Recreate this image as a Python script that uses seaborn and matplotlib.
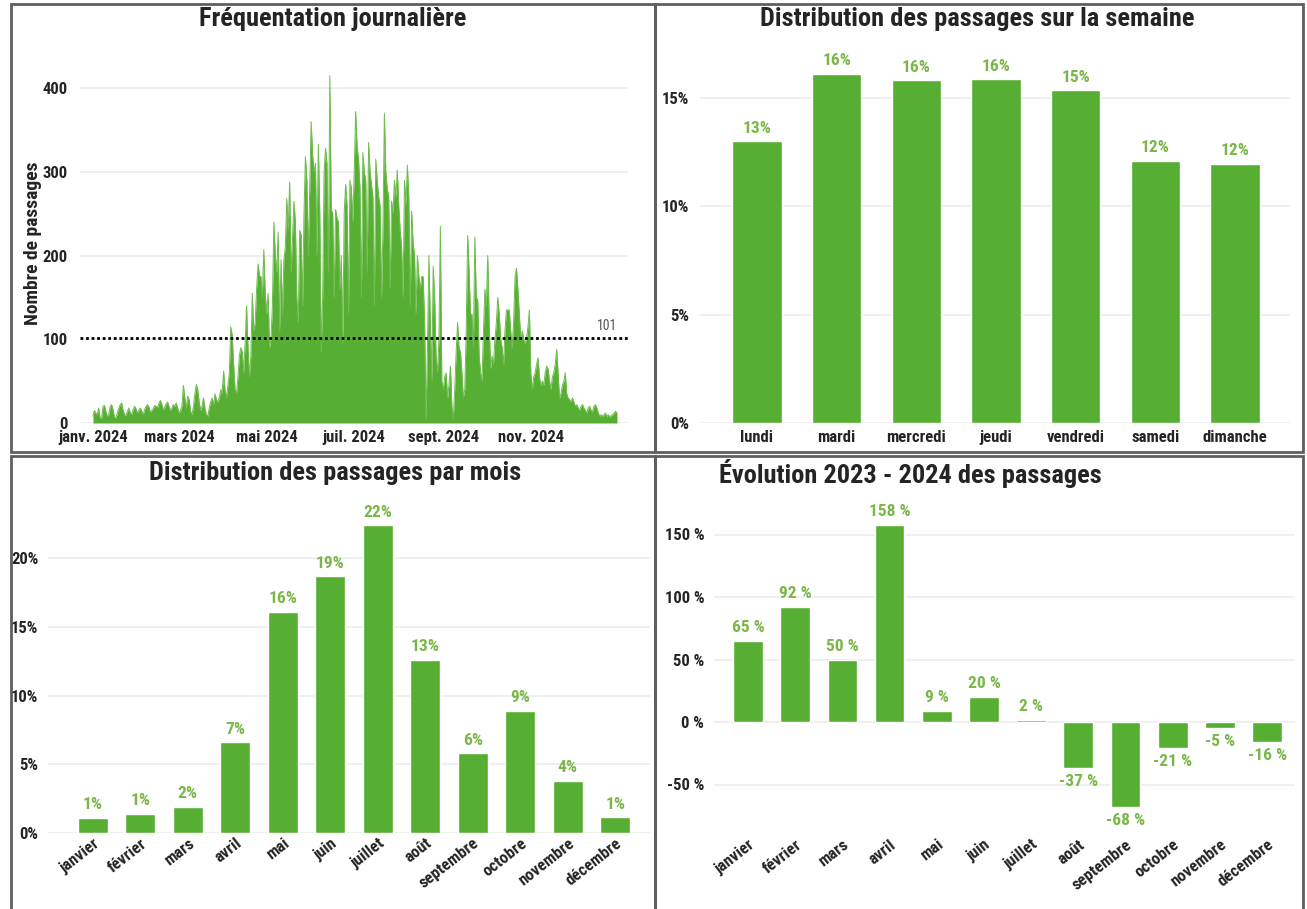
import numpy as np
import pandas as pd
import seaborn as sns
import matplotlib.pyplot as plt
from matplotlib.patches import Rectangle

# couleurs
GREEN = '#56ae32'
LABEL_GREEN = '#7ab648'
DARK = '#252423'

#donnees journalieres 2024
jan = [8, 15, 12, 10, 18, 6, 5, 20, 21, 14, 8, 10, 20, 22, 16, 7, 6, 12, 18, 22,
       24, 15, 10, 9, 14, 18, 12, 10, 16, 20, 17]
feb = [12, 15, 18, 14, 10, 16, 20, 22, 19, 13, 15, 17, 21, 20, 18, 24, 27, 22, 16, 19,
       23, 25, 20, 15, 18, 22, 20, 24, 18]
mar = [12, 15, 20, 45, 30, 18, 32, 28, 14, 10, 20, 35, 46, 40, 25, 15, 20, 30, 18, 10,
       8, 18, 25, 30, 22, 35, 28, 25, 30, 40, 35]
apr = [62, 40, 30, 45, 60, 115, 105, 70, 40, 35, 55, 80, 90, 85, 60, 95, 140, 90, 55, 80,
       155, 110, 120, 160, 190, 175, 175, 150, 207, 155]
may = [130, 155, 90, 100, 140, 240, 200, 180, 228, 110, 195, 130, 195, 210, 268, 230, 288, 180, 220, 265,
       240, 150, 120, 230, 225, 140, 250, 318, 290, 200, 280]
jun = [360, 320, 300, 310, 200, 333, 250, 85, 150, 300, 328, 310, 180, 415, 255, 250, 150, 255, 245, 240,
       160, 200, 95, 250, 285, 260, 130, 290, 280, 240]
jul = [300, 372, 330, 315, 280, 150, 323, 300, 290, 180, 335, 300, 285, 270, 140, 315, 290, 270, 260, 150,
       230, 370, 300, 280, 270, 160, 265, 250, 290, 270, 302]
aug = [260, 230, 210, 150, 290, 260, 308, 270, 140, 253, 215, 200, 130, 200, 175, 160, 175, 175, 120, 5,
       90, 200, 120, 50, 187, 150, 80, 60, 100, 235, 50]
sep = [40, 55, 60, 30, 45, 68, 20, 5, 40, 85, 120, 90, 85, 60, 30, 40, 110, 224, 180, 130,
       130, 90, 222, 150, 147, 80, 60, 50, 110, 160]
oct_ = [140, 200, 120, 65, 80, 70, 100, 120, 150, 130, 100, 90, 70, 110, 135, 135, 135, 110, 90, 120,
        175, 185, 160, 130, 100, 110, 100, 95, 100, 115, 135]
nov = [60, 40, 55, 60, 70, 78, 55, 45, 50, 45, 60, 68, 65, 50, 40, 55, 60, 70, 88, 60,
       30, 35, 45, 50, 60, 35, 30, 28, 25, 30]
dec = [25, 20, 22, 18, 15, 20, 22, 18, 15, 12, 18, 20, 15, 14, 20, 22, 18, 12, 8, 10,
       8, 10, 12, 8, 10, 7, 9, 10, 12, 14, 12]
mean_passages = 101

date_ticks = ['2024-01-01', '2024-03-01', '2024-05-01', '2024-07-01', '2024-09-01', '2024-11-01']
date_labels = ['janv. 2024', 'mars 2024', 'mai 2024', 'juil. 2024', 'sept. 2024', 'nov. 2024']

#distribution semaine (%)
jours = ['lundi', 'mardi', 'mercredi', 'jeudi', 'vendredi', 'samedi', 'dimanche']
part_jours = [13.0, 16.1, 15.8, 15.85, 15.35, 12.1, 11.95]

#distribution mois (%)
mois = ['janvier', 'février', 'mars', 'avril', 'mai', 'juin', 'juillet', 'août',
        'septembre', 'octobre', 'novembre', 'décembre']
part_mois = [1.1, 1.4, 1.9, 6.6, 16.1, 18.7, 22.4, 12.6, 5.8, 8.9, 3.8, 1.15]

#evolution 2023 - 2024 (%)
evolution = [65, 92, 50, 158, 9, 20, 2, -37, -68, -21, -5, -16]

sns.set_style('white')
plt.rcParams['font.family'] = ['Roboto Condensed', 'DejaVu Sans Condensed', 'Roboto', 'DejaVu Sans']
plt.rcParams['font.stretch'] = 'condensed'

fig = plt.figure(figsize=(13.07, 9.09), dpi=100)
W, H = 1307, 909
TICK_SIZE = 12
VALUE_SIZE = 12.5


def box(x0, y0, x1, y1):
    # pixel box -> figure fraction [left, bottom, width, height]
    return [x0 / W, 1 - y1 / H, (x1 - x0) / W, (y1 - y0) / H]


def style_axes(ax):
    sns.despine(ax=ax, left=True, bottom=True)
    ax.grid(axis='y', color='#ececec', lw=1.2)
    ax.grid(axis='x', visible=False)
    ax.set_axisbelow(True)
    ax.tick_params(length=0, labelsize=TICK_SIZE, labelcolor=DARK)
    for lab in ax.get_xticklabels() + ax.get_yticklabels():
        lab.set_fontweight('bold')
    ax.set_xlabel('')
    ax.set_ylabel('')


#panel borders
for (x0, y0, x1, y1) in [(11, 4, 655, 452), (655, 4, 1303, 452), (11, 456, 655, 915), (655, 456, 1303, 915)]:
    fig.add_artist(Rectangle((x0 / W, 1 - y1 / H), (x1 - x0) / W, (y1 - y0) / H,
                             transform=fig.transFigure, fill=False, ec='#5f5f5f', lw=2))

#titles
title_kw = dict(ha='center', va='center', fontsize=19, fontweight='bold', color=DARK)
fig.text(333 / W, 1 - 19 / H, 'Fréquentation journalière', **title_kw)
fig.text(977 / W, 1 - 19 / H, 'Distribution des passages sur la semaine', **title_kw)
fig.text(335 / W, 1 - 473 / H, 'Distribution des passages par mois', **title_kw)
fig.text(910 / W, 1 - 474 / H, 'Évolution 2023 - 2024 des passages', **title_kw)

# 1. frequentation journaliere
daily = pd.DataFrame({'date': pd.date_range('2024-01-01', '2024-12-31', freq='D'),
                      'passages': jan + feb + mar + apr + may + jun + jul + aug + sep + oct_ + nov + dec})
ax1 = fig.add_axes(box(80, 63, 628, 423))
ax1.fill_between(daily['date'], daily['passages'], color=GREEN, lw=0)
sns.lineplot(data=daily, x='date', y='passages', color='#6fbd4e', lw=0.7, ax=ax1)
ax1.axhline(mean_passages, color='black', ls=(0, (1, 1)), lw=2)
ax1.text(pd.Timestamp('2024-12-31'), mean_passages + 7, str(mean_passages), ha='right', va='bottom',
         fontsize=10, color='#555555')
start = pd.Timestamp('2024-01-01')
ax1.set_xlim(start - pd.Timedelta(days=9), start + pd.Timedelta(days=372.7))
ax1.set_ylim(0, 430)
ax1.set_yticks([0, 100, 200, 300, 400])
ax1.set_xticks(pd.to_datetime(date_ticks))
ax1.set_xticklabels(date_labels)
style_axes(ax1)
ax1.tick_params(axis='x', pad=5)
ax1.tick_params(axis='y', pad=9)
ax1.set_ylabel('Nombre de passages', fontsize=14, fontweight='bold', color=DARK, labelpad=0)

# 2. distribution semaine
ax2 = fig.add_axes(box(700, 50, 1290, 423))
sns.barplot(x=jours, y=part_jours, color=GREEN, saturation=1, width=0.62, ax=ax2)
ax2.bar_label(ax2.containers[0], labels=[f'{v:.0f}%' for v in part_jours], padding=4,
              color=LABEL_GREEN, fontsize=VALUE_SIZE, fontweight='bold')
ax2.set_xlim(-0.715, 6.69)
ax2.set_ylim(0, 17.2)
ax2.set_yticks([0, 5, 10, 15])
ax2.set_yticklabels(['0%', '5%', '10%', '15%'])
style_axes(ax2)
ax2.tick_params(axis='y', pad=8)
ax2.tick_params(axis='x', pad=5)

# 3. distribution mois
ax3 = fig.add_axes(box(48, 495, 650, 833))
sns.barplot(x=mois, y=part_mois, color=GREEN, saturation=1, width=0.63, ax=ax3)
ax3.bar_label(ax3.containers[0], labels=[f'{v:.0f}%' for v in part_mois], padding=4,
              color=LABEL_GREEN, fontsize=VALUE_SIZE, fontweight='bold')
ax3.set_xlim(-0.94, 11.73)
ax3.set_ylim(0, 24.6)
ax3.set_yticks([0, 5, 10, 15, 20])
ax3.set_yticklabels(['0%', '5%', '10%', '15%', '20%'])
style_axes(ax3)
ax3.tick_params(axis='y', pad=7)
ax3.tick_params(axis='x', pad=2)
plt.setp(ax3.get_xticklabels(), rotation=38, ha='right', rotation_mode='anchor')

# 4. evolution 2023 - 2024
ax4 = fig.add_axes(box(714, 495, 1295, 830))
sns.barplot(x=mois, y=evolution, color=GREEN, saturation=1, width=0.63, ax=ax4)
ax4.bar_label(ax4.containers[0], labels=[f'{v:.0f} %' for v in evolution], padding=4,
              color=LABEL_GREEN, fontsize=VALUE_SIZE, fontweight='bold')
ax4.set_xlim(-0.72, 11.59)
ax4.set_ylim(-86.4, 181.6)
ax4.set_yticks([-50, 0, 50, 100, 150])
ax4.set_yticklabels(['-50 %', '0 %', '50 %', '100 %', '150 %'])
style_axes(ax4)
ax4.tick_params(axis='y', pad=7)
ax4.tick_params(axis='x', pad=5)
plt.setp(ax4.get_xticklabels(), rotation=38, ha='right', rotation_mode='anchor')

fig.savefig('out.png', dpi=100)
